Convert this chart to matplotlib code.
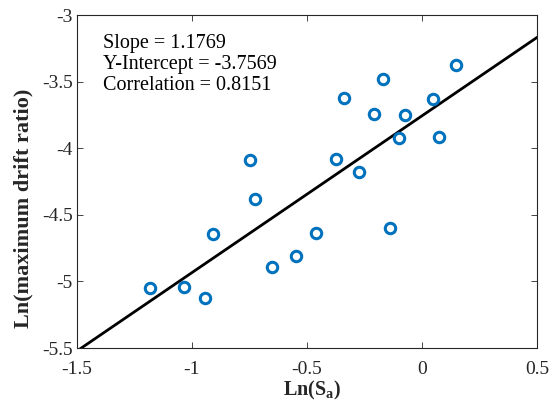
import matplotlib as mpl
mpl.use('Agg')
import matplotlib.pyplot as plt
import numpy as np
from matplotlib.ticker import FuncFormatter

plt.rcParams['font.family'] = 'serif'
plt.rcParams['font.serif'] = ['Liberation Serif']
plt.rcParams['mathtext.fontset'] = 'custom'
plt.rcParams['mathtext.rm'] = 'Liberation Serif'
plt.rcParams['mathtext.bf'] = 'Liberation Serif:bold'

# data
ln_sa = [0.148, -0.169, -0.341, 0.049, -0.209, -0.076, -0.098, 0.075,
         -0.747, -0.376, -0.276, -0.727, -0.908, -0.459, -0.140, -0.548,
         -0.652, -1.182, -1.035, -0.944]
ln_drift = [-3.372, -3.483, -3.622, -3.634, -3.746, -3.753, -3.920, -3.917,
            -4.091, -4.080, -4.175, -4.381, -4.643, -4.633, -4.596, -4.812,
            -4.891, -5.047, -5.039, -5.126]
slope = 1.1769
intercept = -3.7569
correlation = 0.8151
fit_x = [-1.5, 0.5]

xticks = [-1.5, -1, -0.5, 0, 0.5]
yticks = [-5.5, -5, -4.5, -4, -3.5, -3]

fig = plt.figure(figsize=(5.51, 4.12), dpi=100)
ax = fig.add_axes([77/551, 1 - 348/412, 460/551, 333/412])

ax.plot(ln_sa, ln_drift, 'o', mfc='none', mec='#0072BD', ms=7.5, mew=2.2, zorder=3)
fit_y = [slope * v + intercept for v in fit_x]
ax.plot(fit_x, fit_y, color='black', lw=2.0, zorder=2)

ax.set_xlim(-1.5, 0.5)
ax.set_ylim(-5.5, -3)
ax.set_xticks(xticks)
ax.set_yticks(yticks)
fmt = FuncFormatter(lambda v, p: '%g' % v)
ax.xaxis.set_major_formatter(fmt)
ax.yaxis.set_major_formatter(fmt)
ax.tick_params(direction='in', top=True, right=True, labelsize=14, length=4,
               width=0.6, colors='#262626')
ax.tick_params(axis='x', pad=9)
ax.tick_params(axis='y', pad=3)
for s in ax.spines.values():
    s.set_linewidth(0.8)
    s.set_color('#262626')

ax.set_xlabel(r'Ln(S$_\mathbf{a}$)', fontsize=14.5, fontweight='bold', color='#262626', va='center')
ax.xaxis.set_label_coords(0.51, -0.128)
ax.set_ylabel('Ln(maximum drift ratio)', fontsize=16, fontweight='bold', color='#262626', va='center')
ax.yaxis.set_label_coords(-0.117, 0.42)

txt = 'Slope = %.4f\nY-Intercept = %.4f\nCorrelation = %.4f' % (slope, intercept, correlation)
ax.text(0.0565, 0.943, txt, transform=ax.transAxes, fontsize=14.5, va='top', ha='left',
        linespacing=1.15)

fig.savefig('out.png', dpi=100)
